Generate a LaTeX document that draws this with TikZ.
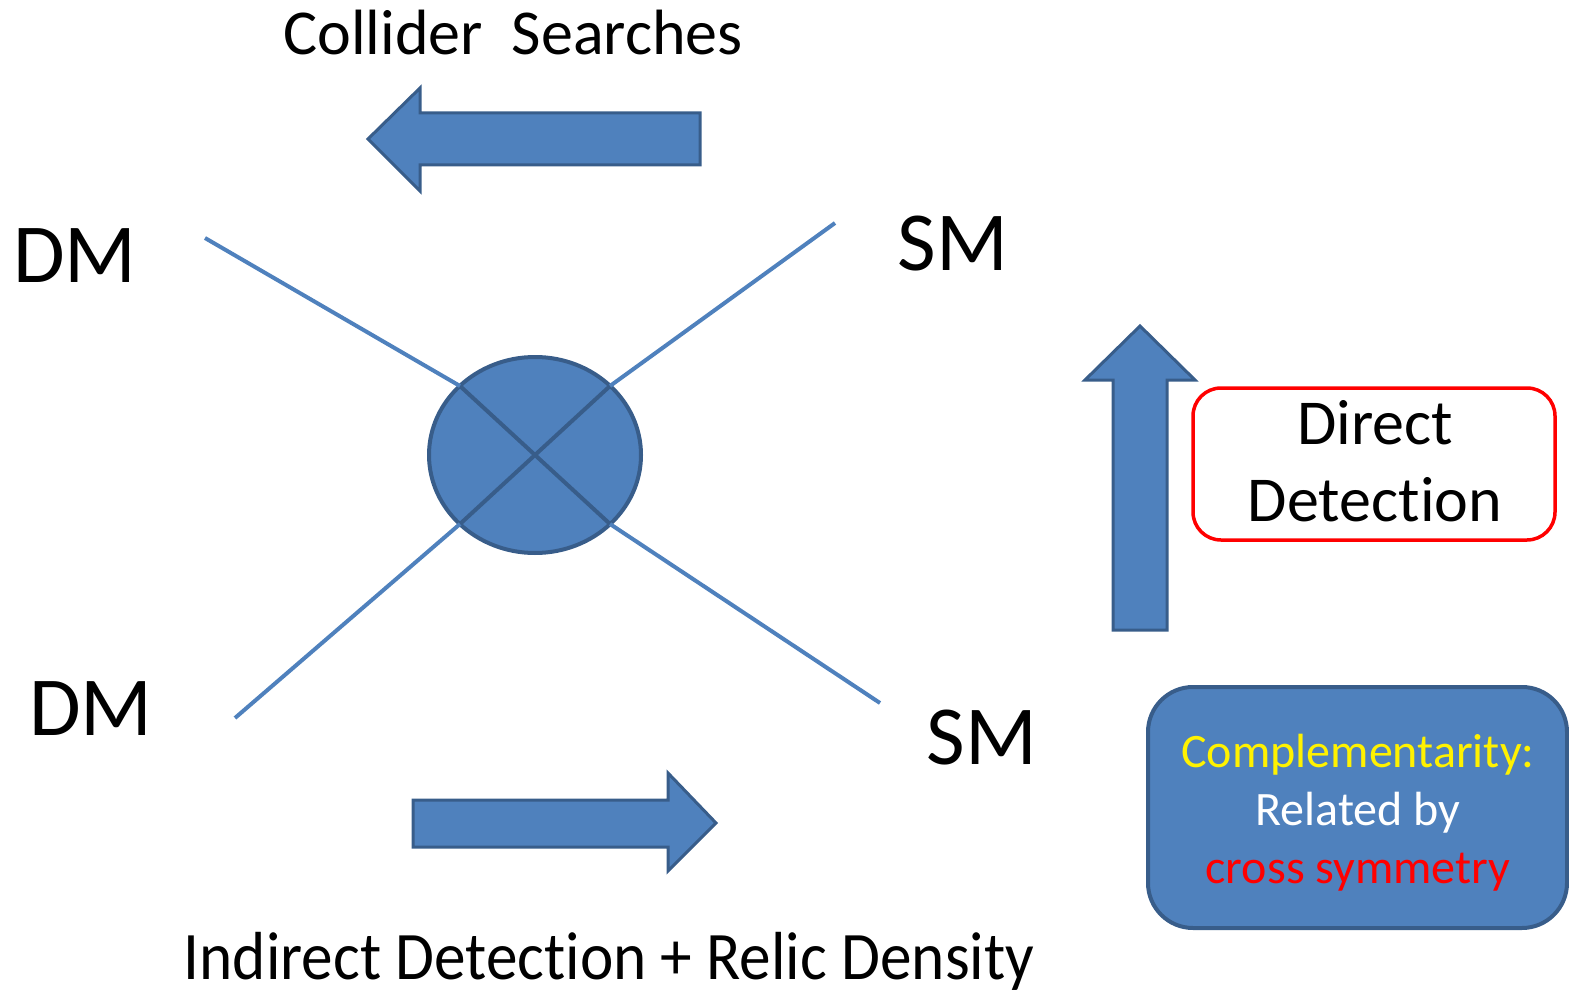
\documentclass[tikz,border=0pt]{standalone}
\usepackage{fontspec}
\usetikzlibrary{shapes.geometric}
\setmainfont{Carlito}[Ligatures=NoCommon]
\definecolor{ofblue}{HTML}{4F81BD}
\definecolor{ofdark}{HTML}{385D8A}
\begin{document}
\begin{tikzpicture}[x=1pt,y=-1pt,
  lbl/.style={font=\fontsize{84}{100}\selectfont, inner sep=0pt, anchor=base},
  ttl/.style={font=\fontsize{64}{76}\selectfont, inner sep=0pt, anchor=base},
  blk/.style={fill=ofblue, draw=ofdark, line width=3pt, line join=miter},
  leg/.style={draw=ofblue, line width=4pt},
  xline/.style={draw=ofdark, line width=4pt}]
\useasboundingbox (0,0) rectangle (1569,995);

% vertex
\node[ellipse, minimum width=212pt, minimum height=196pt, inner sep=0pt,
  fill=ofblue, draw=ofdark, line width=4pt] (vtx) at (535,455) {};
\coordinate (ul) at (460,386);
\coordinate (ur) at (610,386);
\coordinate (ll) at (460,524);
\coordinate (lr) at (610,524);
\draw[xline] (ul) -- (lr);
\draw[xline] (ur) -- (ll);

% external legs
\coordinate (dmA) at (205,238);
\coordinate (smA) at (835,223);
\coordinate (dmB) at (235,718);
\coordinate (smB) at (880,703);
\draw[leg] (dmA) -- (ul);
\draw[leg] (smA) -- (ur);
\draw[leg] (dmB) -- (ll);
\draw[leg] (smB) -- (lr);

% labels
\node[lbl] (tdmA) at (75,283) {DM};
\node[lbl] (tsmA) at (953,270) {SM};
\node[lbl] (tdmB) at (91,735) {DM};
\node[lbl] (tsmB) at (982,764) {SM};

\node[ttl] (coll) at (513,55) {Collider\ \ Searches};
\node[ttl, font=\fontsize{68}{80}\selectfont] (indir) at (609,979) {\scalebox{0.93}[1]{Indirect Detection + Relic Density}};

% arrows
\draw[blk] (700,113) -- (420,113) -- (420,88) -- (368,139) -- (420,191) -- (420,165) -- (700,165) -- cycle;
\draw[blk] (413,800) -- (668,800) -- (668,773) -- (716,823) -- (668,871) -- (668,847) -- (413,847) -- cycle;
\draw[blk] (1113,630) -- (1113,380) -- (1085,380) -- (1140,326) -- (1195,380) -- (1167,380) -- (1167,630) -- cycle;

% boxes
\draw[draw=red, line width=3.5pt, rounded corners=28pt] (1193,388) rectangle (1555,540);
\node[ttl, anchor=center] (dd1) at (1375,423) {Direct};
\node[ttl, anchor=center] (dd2) at (1375,500) {Detection};

\draw[fill=ofblue, draw=ofdark, line width=4pt, rounded corners=45pt] (1148,687) rectangle (1567,928);
\node[font=\fontsize{48}{58}\selectfont, inner sep=0pt, anchor=base, text=yellow] (c1) at (1358,767) {Complementarity:};
\node[font=\fontsize{48}{58}\selectfont, inner sep=0pt, anchor=base, text=white] (c2) at (1358,825) {Related by};
\node[font=\fontsize{48}{58}\selectfont, inner sep=0pt, anchor=base, text=red] (c3) at (1358,883) {cross symmetry};
\end{tikzpicture}
\end{document}
